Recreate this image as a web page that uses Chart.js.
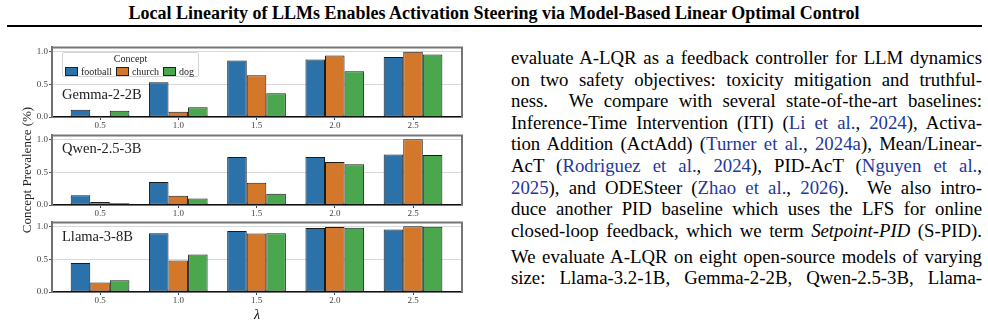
<!DOCTYPE html>
<html>
<head>
<meta charset="utf-8">
<script src="https://cdn.jsdelivr.net/npm/chart.js@4.4.1/dist/chart.umd.min.js"></script>
<style>
  html, body { margin: 0; padding: 0; background: #fff; }
  body {
    width: 988px; height: 325px; position: relative; overflow: hidden;
    font-family: "Liberation Serif", "Times New Roman", serif; color: #000;
  }
  .header {
    position: absolute; left: 0; top: 2px; width: 988px;
    text-align: center; font-weight: bold; font-size: 18px; line-height: 22px;
  }
  .rule { position: absolute; left: 7px; top: 25px; width: 975px; height: 2px; background: #000; }
  .panel { position: absolute; left: 0; width: 480px; height: 90px; }
  .model { position: absolute; left: 62px; font-size: 14.5px; line-height: 16px; color: #222; }
  .legend {
    position: absolute; left: 62px; top: 52px; width: 137px; height: 25px;
    border: 1px solid #d4d4d4; border-radius: 2px; background: rgba(255,255,255,0.85);
    font-size: 10px; color: #222; box-sizing: border-box;
  }
  .legend .ttl { text-align: center; line-height: 11px; }
  .legend .row { display: flex; align-items: center; padding-left: 2px; line-height: 11px; margin-top: 2px; }
  .legend .sw { width: 12px; height: 7px; border: 1px solid #222; margin-right: 3px; }
  .legend .lab { margin-right: 4px; }
  .ylab {
    position: absolute; left: 27px; top: 170px; font-size: 13px; white-space: nowrap; color: #222;
    transform: translate(-50%, -50%) rotate(-90deg);
  }
  .xlab { position: absolute; left: 257px; top: 315px; font-size: 14px; font-style: italic; transform: translate(-50%, -50%); }
  .text {
    position: absolute; left: 511px; top: 47px; width: 471px;
    font-size: 18.8px; line-height: 21.6px;
  }
  .text div { white-space: nowrap; }
  .text .p2 { margin-top: 4.4px; }
  .text a { color: #23379b; text-decoration: none; }
</style>
</head>
<body>
<div class="header">Local Linearity of LLMs Enables Activation Steering via Model-Based Linear Optimal Control</div>
<div class="rule"></div>

<div class="panel" style="top:40.5px"><canvas id="c0" width="480" height="90"></canvas></div>
<div class="panel" style="top:128.5px"><canvas id="c1" width="480" height="90"></canvas></div>
<div class="panel" style="top:216px"><canvas id="c2" width="480" height="90"></canvas></div>

<div class="model" style="top:86px">Gemma-2-2B</div>
<div class="model" style="top:140px">Qwen-2.5-3B</div>
<div class="model" style="top:228px">Llama-3-8B</div>
<div class="legend" id="legend"></div>
<div class="ylab">Concept Prevalence (%)</div>
<div class="xlab">λ</div>

<div class="text">
  <div>evaluate A-LQR as a feedback controller for LLM dynamics</div>
  <div>on two safety objectives: toxicity mitigation and truthful-</div>
  <div>ness. &nbsp;We compare with several state-of-the-art baselines:</div>
  <div>Inference-Time Intervention (ITI) (<a>Li et al.</a>, <a>2024</a>), Activa-</div>
  <div>tion Addition (ActAdd) (<a>Turner et al.</a>, <a>2024a</a>), Mean/Linear-</div>
  <div>AcT (<a>Rodriguez et al.</a>, <a>2024</a>), PID-AcT (<a>Nguyen et al.</a>,</div>
  <div><a>2025</a>), and ODESteer (<a>Zhao et al.</a>, <a>2026</a>). &nbsp;We also intro-</div>
  <div>duce another PID baseline which uses the LFS for online</div>
  <div>closed-loop feedback, which we term <i>Setpoint-PID</i> (S-PID).</div>
  <div class="p2">We evaluate A-LQR on eight open-source models of varying</div>
  <div>size: Llama-3.2-1B, Gemma-2-2B, Qwen-2.5-3B, Llama-</div>
</div>

<script>
const lambdas = [0.5, 1.0, 1.5, 2.0, 2.5];
const concepts = ['football', 'church', 'dog'];
const conceptColors = ['#2b71aa', '#d3782b', '#4aa74e'];
const yTicks = [0.0, 0.5, 1.0];

const gemmaFootball = [0.11, 0.53, 0.86, 0.875, 0.915];
const gemmaChurch = [0.01, 0.08, 0.635, 0.935, 0.995];
const gemmaDog = [0.095, 0.15, 0.36, 0.695, 0.95];

const qwenFootball = [0.15, 0.35, 0.73, 0.73, 0.77];
const qwenChurch = [0.045, 0.14, 0.34, 0.655, 1.0];
const qwenDog = [0.025, 0.10, 0.17, 0.62, 0.76];

const llamaFootball = [0.44, 0.895, 0.93, 0.975, 0.95];
const llamaChurch = [0.145, 0.48, 0.89, 0.99, 1.0];
const llamaDog = [0.18, 0.57, 0.895, 0.98, 0.995];

const panels = [
  [gemmaFootball, gemmaChurch, gemmaDog],
  [qwenFootball, qwenChurch, qwenDog],
  [llamaFootball, llamaChurch, llamaDog],
];

const FONT = '"Liberation Serif", "Times New Roman", serif';

// top and right spines in grey, like the matplotlib frame
const frame = {
  id: 'frame',
  afterDraw(chart) {
    const { ctx, chartArea: a } = chart;
    ctx.save();
    ctx.strokeStyle = '#767676';
    ctx.lineWidth = 2;
    ctx.beginPath();
    ctx.moveTo(a.left, a.top);
    ctx.lineTo(a.right, a.top);
    ctx.lineTo(a.right, a.bottom);
    ctx.stroke();
    ctx.restore();
  }
};

panels.forEach((series, p) => {
  const ctx = document.getElementById('c' + p).getContext('2d');
  new Chart(ctx, {
    type: 'bar',
    data: {
      datasets: series.map((vals, i) => ({
        label: concepts[i],
        data: lambdas.map((l, j) => ({ x: l, y: vals[j] })),
        backgroundColor: conceptColors[i],
        borderColor: '#1a1a1a',
        borderWidth: 1,
        borderSkipped: false,
        barPercentage: 1.0,
        categoryPercentage: 0.75,
      }))
    },
    options: {
      responsive: false,
      animation: false,
      layout: { padding: { top: 6, right: 18, left: 0, bottom: 0 } },
      plugins: { legend: { display: false }, tooltip: { enabled: false } },
      scales: {
        x: {
          type: 'linear',
          min: 0.193,
          max: 2.813,
          bounds: 'data',
          offset: false,
          afterBuildTicks: (s) => { s.ticks = lambdas.map(v => ({ value: v })); },
          afterFit: (s) => { s.height = 14; },
          ticks: {
            callback: (v) => v.toFixed(1),
            font: { family: FONT, size: 9 },
            color: '#444',
            padding: 0,
            maxRotation: 0,
            autoSkip: false,
          },
          grid: { drawOnChartArea: false, drawTicks: true, tickLength: 3, tickColor: '#444', offset: false },
          border: { color: '#111', width: 1.5 },
        },
        y: {
          min: 0,
          max: 1.06,
          bounds: 'data',
          afterBuildTicks: (s) => { s.ticks = yTicks.map(v => ({ value: v })); },
          afterFit: (s) => { s.width = 52; },
          ticks: {
            callback: (v) => v.toFixed(1),
            font: { family: FONT, size: 9 },
            color: '#444',
            padding: 1,
          },
          grid: { color: '#d9d9d9', lineWidth: 1, tickLength: 3, tickColor: '#555' },
          border: { color: '#707070', width: 2 },
        }
      }
    },
    plugins: [frame]
  });
});

// legend box built from the concept list
const legend = document.getElementById('legend');
let html = '<div class="ttl">Concept</div><div class="row">';
concepts.forEach((c, i) => {
  html += '<span class="sw" style="background:' + conceptColors[i] + '"></span><span class="lab">' + c + '</span>';
});
legend.innerHTML = html + '</div>';

// justify each text line to the column width by stretching word spaces
const COL_W = 471;
document.querySelectorAll('.text div').forEach(line => {
  const range = document.createRange();
  range.selectNodeContents(line);
  const w = range.getBoundingClientRect().width;
  const gaps = (line.textContent.trim().match(/[ \u00a0]/g) || []).length;
  if (gaps) line.style.wordSpacing = ((COL_W - w) / gaps) + 'px';
});
</script>
</body>
</html>
